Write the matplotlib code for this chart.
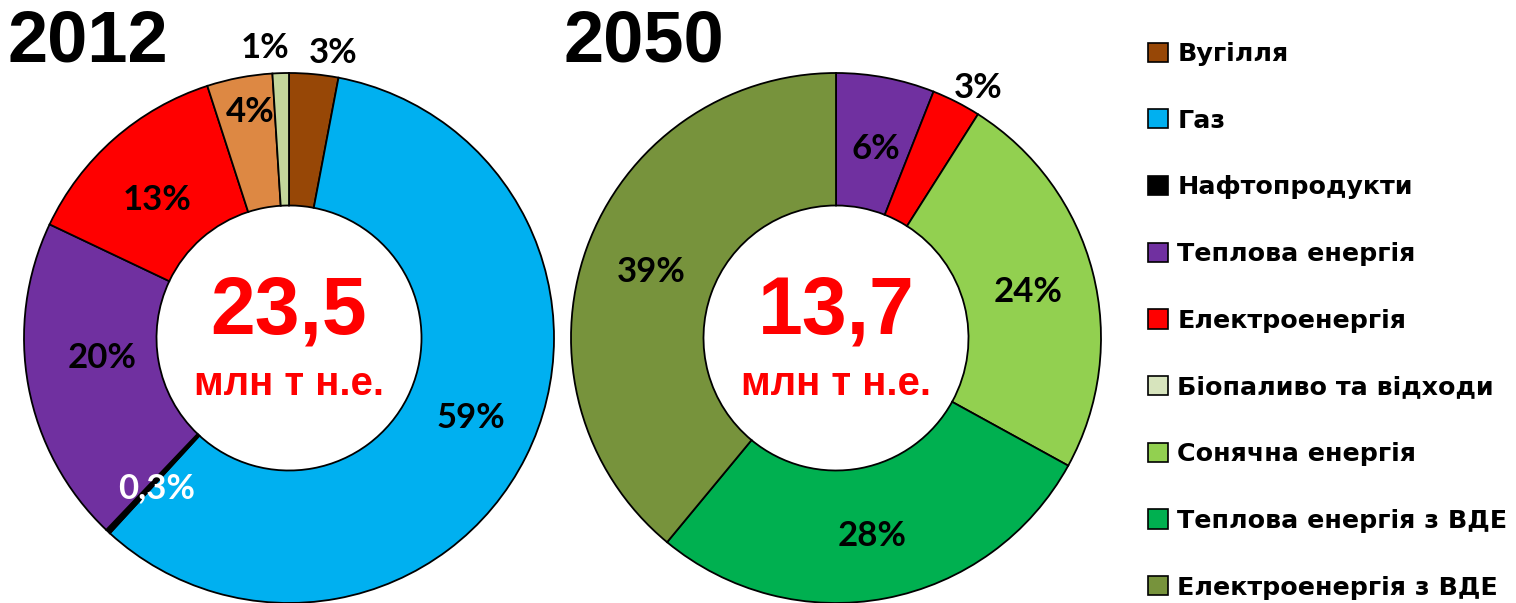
import matplotlib
matplotlib.use("Agg")
import matplotlib.pyplot as plt
from matplotlib.patches import Patch
import numpy as np

# ---------------- data ----------------
cats_2012 = ["Вугілля", "Газ", "Нафтопродукти", "Теплова енергія",
             "Електроенергія", "Інше", "Біопаливо та відходи"]
vals_2012 = [3, 59, 0.3, 20, 13, 4, 1]
total_2012 = "23,5"

cats_2050 = ["Теплова енергія", "Електроенергія", "Сонячна енергія",
             "Теплова енергія з ВДЕ", "Електроенергія з ВДЕ"]
vals_2050 = [6, 3, 24, 28, 39]
total_2050 = "13,7"

unit = "млн т н.е."
years = ["2012", "2050"]

legend_cats = ["Вугілля", "Газ", "Нафтопродукти", "Теплова енергія",
               "Електроенергія", "Біопаливо та відходи", "Сонячна енергія",
               "Теплова енергія з ВДЕ", "Електроенергія з ВДЕ"]

# ---------------- styles ----------------
colors = {
    "Вугілля": "#974706",
    "Газ": "#00B0F0",
    "Нафтопродукти": "#000000",
    "Теплова енергія": "#7030A0",
    "Електроенергія": "#FF0000",
    "Інше": "#DD8843",
    "Біопаливо та відходи": "#C3D69B",
    "Сонячна енергія": "#92D050",
    "Теплова енергія з ВДЕ": "#00B050",
    "Електроенергія з ВДЕ": "#77933C",
}
legend_colors = dict(colors)
legend_colors["Біопаливо та відходи"] = "#D7E4BD"

W, H = 1516, 603
R = 265

# per-label layout: (radius factor, clockwise angle nudge in deg, text colour)
lay_2012 = [(1.09, 3.5, "black"), (0.75, -3, "black"), (0.755, -1.5, "white"),
            (0.71, 4.5, "black"), (0.72, -2.3, "black"), (0.865, 1, "black"),
            (1.10, -3, "black")]
lay_2050 = [(0.73, 1, "black"), (1.085, 2.6, "black"), (0.745, 1, "black"),
            (0.76, 0.5, "black"), (0.74, 0, "black")]

fig = plt.figure(figsize=(W / 100, H / 100), dpi=100)
ax = fig.add_axes([0, 0, 1, 1])

PCT_FONT = dict(family=["Lato", "DejaVu Sans"], weight="bold", size=25)
BIG_FONT = dict(family=["Liberation Sans"], weight="bold")


def fmt(v):
    return ("%g" % v).replace(".", ",") + "%"


def donut(cx, cy_pix, cats, vals, layout, total):
    cy = H - cy_pix
    wedges, _ = ax.pie(vals, colors=[colors[c] for c in cats], startangle=90,
                       counterclock=False, radius=R, center=(cx, cy),
                       wedgeprops=dict(width=R * 0.5, edgecolor="black",
                                       linewidth=1.3))
    for w, v, (rf, nudge, col) in zip(wedges, vals, layout):
        th = np.deg2rad((w.theta1 + w.theta2) / 2 - nudge)
        ax.text(cx + rf * R * np.cos(th), cy + rf * R * np.sin(th), fmt(v),
                ha="center", va="center", color=col, **PCT_FONT)
    ax.text(cx, cy + 25, total, ha="center", va="center", color="#FF0000",
            size=58, **BIG_FONT)
    ax.text(cx, cy - 46, unit, ha="center", va="center", color="#FF0000",
            size=29, **BIG_FONT)


donut(289, 338, cats_2012, vals_2012, lay_2012, total_2012)
donut(836, 338, cats_2050, vals_2050, lay_2050, total_2050)

ax.text(8, H - 62, years[0], ha="left", va="baseline", size=52,
        color="black", **BIG_FONT)
ax.text(564, H - 62, years[1], ha="left", va="baseline", size=52,
        color="black", **BIG_FONT)

handles = [Patch(facecolor=legend_colors[c], edgecolor="black", linewidth=1.2)
           for c in legend_cats]
leg = ax.legend(handles, legend_cats, loc="upper left",
                bbox_to_anchor=(1148 / W, 1 - 42 / H),
                bbox_transform=fig.transFigure, frameon=False,
                prop=dict(family="DejaVu Sans", weight="bold", size=18.3),
                handlelength=0.78, handleheight=0.78, handletextpad=0.38,
                labelspacing=1.68, borderaxespad=0, borderpad=0)

ax.set_xlim(0, W)
ax.set_ylim(0, H)
ax.set_aspect("equal")
ax.axis("off")

fig.savefig("out.png", dpi=100, facecolor="white")
